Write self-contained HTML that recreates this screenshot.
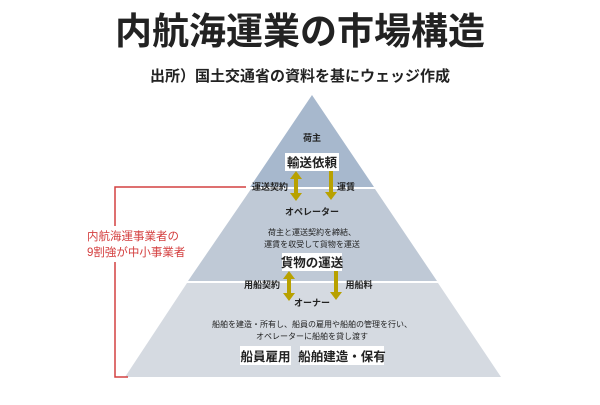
<!DOCTYPE html>
<html><head><meta charset="utf-8"><style>
body{margin:0;width:600px;height:400px;background:#fff;overflow:hidden;font-family:"Liberation Sans","Noto Sans CJK JP",sans-serif}
</style></head><body>
<svg width="600" height="400" xmlns="http://www.w3.org/2000/svg" font-family="'Liberation Sans','Noto Sans CJK JP',sans-serif">
<text x="300" y="44" font-size="37" font-weight="bold" text-anchor="middle" fill="#222">内航海運業の市場構造</text>
<text x="300" y="81" font-size="15" font-weight="bold" text-anchor="middle" fill="#222">出所）国土交通省の資料を基にウェッジ作成</text>
<polygon points="312,95 374,187 250,187" fill="#a7b8cd"/>
<polygon points="251,189 375,189 437,281 188,281" fill="#bfc9d6"/>
<polygon points="187,283 438,283 501,377 125,377" fill="#d5dae1"/>
<polyline points="246,187 115,187 115,377 128,377" fill="none" stroke="#d44040" stroke-width="1.5"/>
<rect x="85" y="226" width="106" height="36" fill="#fff"/>
<text x="87" y="240" font-size="11.5" fill="#d44040">内航海運事業者の</text>
<text x="87" y="256" font-size="11.5" fill="#d44040">9割強が中小事業者</text>
<g fill="#222" text-anchor="middle" font-weight="bold">
<text x="312" y="141" font-size="9">荷主</text>
<rect x="285" y="153" width="54" height="18" fill="#fff"/>
<text x="312" y="167" font-size="12.5">輸送依頼</text>
<text x="270" y="190" font-size="9">運送契約</text>
<text x="346" y="190" font-size="9">運賃</text>
<text x="312" y="215" font-size="9">オペレーター</text>
<text x="312" y="235" font-size="8" font-weight="normal">荷主と運送契約を締結、</text>
<text x="312" y="247" font-size="8" font-weight="normal">運賃を収受して貨物を運送</text>
<rect x="282" y="253" width="60" height="18" fill="#fff"/>
<text x="312" y="267" font-size="12.5">貨物の運送</text>
<text x="262" y="288" font-size="9">用船契約</text>
<text x="359" y="288" font-size="9">用船料</text>
<text x="312" y="306" font-size="9">オーナー</text>
<text x="312" y="327" font-size="8" font-weight="normal">船舶を建造・所有し、船員の雇用や船舶の管理を行い、</text>
<text x="312" y="339" font-size="8" font-weight="normal">オペレーターに船舶を貸し渡す</text>
<rect x="240" y="346" width="51" height="19" fill="#fff"/>
<text x="265.5" y="361" font-size="12.5">船員雇用</text>
<rect x="300" y="346" width="84" height="19" fill="#fff"/>
<text x="342" y="361" font-size="12.5">船舶建造・保有</text>
</g>
<g fill="#b8a100">
<rect x="294" y="178" width="4" height="16"/>
<polygon points="290,179 296,171 302,179"/><polygon points="290,193 296,201 302,193"/>
<rect x="329" y="171" width="4" height="22"/>
<polygon points="325,192 331,200 337,192"/>
<rect x="287" y="278" width="4" height="16"/>
<polygon points="283,279 289,271 295,279"/><polygon points="283,293 289,301 295,293"/>
<rect x="334" y="271" width="4" height="22"/>
<polygon points="330,292 336,300 342,292"/>
</g>
</svg>
</body></html>
